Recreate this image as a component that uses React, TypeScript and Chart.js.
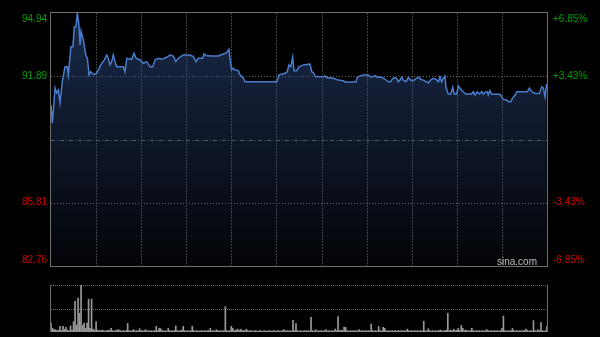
import React, { useEffect, useRef } from "react";
import { Chart, registerables } from "chart.js";

Chart.register(...registerables);

// Minutes since the 09:30 open (HK session: 330 trading minutes)
const minutes = [
  0, 0.9, 2.7, 3.8, 4.9, 6.0, 7.5, 9.3, 10.8, 11.5, 13.3, 14.6, 15.5, 16.6, 17.5, 18.6, 19.3, 20.0, 21.5, 23.1,
  24.2, 25.3, 26.4, 28.1, 29.7, 31.5, 33.3, 35.5, 37.1, 38.1, 39.3, 40.4, 41.4, 42.6, 43.7, 45.9, 48.1, 49.2, 50.4, 53.7,
  55.2, 56.6, 59.2, 61.4, 63.7, 65.9, 67.7, 69.2, 71.4, 73.7, 77.0, 79.2, 81.4, 83.0, 84.7, 88.0, 92.5, 94.7, 96.5, 98.0,
  100.9, 101.8, 103.1, 105.8, 111.3, 112.9, 114.6, 116.9, 118.4, 119.1, 120.2, 121.3, 122.4, 124.6, 125.7, 127.5, 129.1, 150.2, 151.7, 155.7,
  157.2, 158.3, 159.5, 160.8, 161.7, 163.5, 165.0, 167.9, 172.3, 173.5, 174.5, 176.1, 181.2, 182.3, 183.4, 187.8, 191.1, 194.5, 195.6, 202.9,
  203.8, 205.6, 207.8, 211.1, 212.2, 214.4, 215.6, 217.1, 220.0, 222.2, 224.4, 226.0, 227.3, 228.9, 230.0, 231.1, 232.2, 233.3, 234.4, 236.2,
  237.7, 239.3, 241.0, 243.3, 244.8, 246.0, 247.7, 249.5, 251.0, 252.6, 254.3, 256.1, 257.7, 258.8, 259.9, 261.0, 262.1, 262.8, 264.3, 265.9,
  267.3, 268.3, 269.9, 271.0, 272.1, 274.3, 275.9, 279.9, 281.0, 282.1, 283.6, 285.0, 286.5, 287.6, 288.7, 290.3, 290.9, 292.0, 293.2, 296.5,
  298.7, 299.8, 300.9, 303.2, 304.3, 305.9, 307.0, 308.8, 309.9, 315.4, 317.0, 318.3, 319.9, 322.1, 324.9, 326.5, 327.6, 328.7, 329.8,
];

const prices = [
  90.51, 89.63, 91.33, 91.09, 91.23, 90.61, 91.63, 92.35, 92.35, 91.96, 93.32, 93.32, 94.28, 94.28, 94.93, 94.36, 93.40, 94.07, 93.64, 92.92,
  92.76, 91.96, 92.11, 91.99, 91.99, 92.20, 92.47, 92.68, 92.92, 92.76, 92.44, 92.60, 92.92, 92.60, 92.35, 92.35, 92.35, 92.11, 92.76, 92.71,
  93.00, 92.76, 92.68, 92.52, 92.60, 92.35, 92.35, 92.68, 92.76, 92.71, 92.81, 92.92, 92.87, 92.60, 92.76, 92.92, 92.92, 92.84, 92.60, 92.76,
  92.76, 92.97, 92.89, 92.87, 92.87, 92.92, 92.97, 93.03, 93.19, 92.76, 92.20, 92.28, 92.20, 92.16, 91.96, 91.85, 91.63, 91.63, 91.96, 92.04,
  92.11, 92.44, 92.35, 92.81, 92.16, 92.16, 92.35, 92.44, 92.48, 92.11, 92.07, 91.87, 91.87, 91.91, 91.83, 91.80, 91.71, 91.68, 91.62, 91.62,
  91.85, 91.91, 91.96, 91.96, 91.87, 91.87, 91.92, 91.85, 91.85, 91.75, 91.63, 91.63, 91.78, 91.83, 91.78, 91.63, 91.71, 91.85, 91.71, 91.63,
  91.83, 91.71, 91.68, 91.80, 91.85, 91.75, 91.71, 91.63, 91.58, 91.71, 91.80, 91.75, 91.63, 91.87, 91.63, 91.80, 91.91, 91.36, 91.04, 91.03,
  91.36, 91.04, 91.04, 91.43, 91.32, 91.15, 91.04, 91.04, 91.15, 90.99, 91.15, 91.04, 91.15, 91.03, 91.12, 91.15, 90.99, 91.20, 91.03, 91.03,
  91.03, 90.91, 90.78, 90.75, 90.67, 90.67, 90.83, 90.99, 91.15, 91.15, 91.15, 91.32, 91.15, 91.07, 91.07, 91.39, 91.32, 90.91, 91.52,
];

// Per-minute volume (relative, 100 = largest bar)
const volumes = [
  19, 8, 5, 5, 3, 4, 12, 3, 12, 6, 10, 4, 3, 13, 4, 22, 65, 15, 72, 40, 100, 14, 19, 8, 19, 70, 8, 70, 6, 4,
  22, 4, 3, 3, 4, 3, 2, 3, 4, 3, 8, 3, 2, 3, 4, 5, 3, 2, 3, 2, 3, 18, 3, 2, 3, 5, 2, 3, 2, 7,
  3, 2, 3, 5, 2, 3, 2, 3, 2, 3, 12, 3, 8, 7, 3, 2, 3, 2, 8, 3, 2, 3, 3, 13, 3, 2, 3, 4, 12, 3,
  2, 3, 2, 3, 12, 3, 2, 3, 2, 2, 3, 2, 3, 2, 3, 3, 8, 2, 3, 2, 5, 3, 2, 3, 2, 3, 54, 3, 2, 3,
  12, 8, 3, 4, 6, 3, 6, 4, 3, 3, 6, 3, 2, 3, 2, 2, 3, 2, 2, 3, 2, 2, 3, 2, 2, 3, 2, 2, 3, 2,
  2, 3, 2, 2, 3, 5, 2, 3, 2, 3, 2, 25, 3, 18, 3, 2, 3, 2, 2, 3, 2, 3, 2, 31, 3, 2, 5, 2, 3, 2,
  3, 2, 3, 5, 2, 3, 2, 3, 2, 6, 3, 33, 3, 4, 3, 10, 10, 3, 2, 3, 2, 3, 2, 3, 2, 5, 2, 3, 2, 3,
  2, 3, 2, 17, 3, 2, 3, 2, 12, 3, 2, 10, 8, 3, 2, 3, 2, 3, 2, 3, 2, 3, 2, 3, 2, 3, 2, 6, 3, 2,
  3, 2, 3, 2, 3, 2, 3, 2, 23, 3, 2, 7, 3, 2, 3, 2, 3, 2, 3, 4, 3, 2, 3, 4, 40, 3, 4, 3, 6, 3,
  4, 8, 3, 14, 8, 3, 4, 3, 2, 3, 8, 3, 2, 3, 2, 3, 2, 3, 2, 3, 5, 3, 2, 3, 2, 3, 2, 3, 2, 3,
  8, 34, 3, 2, 3, 2, 3, 8, 3, 2, 3, 2, 3, 2, 3, 3, 6, 3, 2, 3, 2, 24, 3, 2, 5, 3, 20, 3, 2, 3,
  12,
];

const PREV_CLOSE = 88.85;
const PRICE_MIN = 82.76;
const PRICE_MAX = 94.94;
const priceTicks = [94.94, 91.89, 85.81, 82.76];
const priceLabels = ["94.94", "91.89", "85.81", "82.76"];
const pctLabels = ["+6.85%", "+3.43%", "-3.43%", "-6.85%"];
const timeGrid = [30, 60, 90, 120, 150, 180, 210, 240, 270, 300];
const SESSION_MINUTES = 330;

const FONT = "10px 'Liberation Sans', Arial, sans-serif";

const mainDecor = {
  id: "mainDecor",
  beforeDatasetsDraw(chart: any) {
    const { ctx, chartArea: a, scales } = chart;
    const x = scales.x;
    const y = scales.y;
    ctx.save();
    ctx.lineWidth = 1;
    // vertical time grid
    ctx.strokeStyle = "#3e3e3e";
    ctx.setLineDash([2, 1]);
    for (const m of timeGrid) {
      const px = Math.round(x.getPixelForValue(m)) + 0.5;
      ctx.beginPath();
      ctx.moveTo(px, a.top);
      ctx.lineTo(px, a.bottom);
      ctx.stroke();
    }
    // horizontal price grid
    ctx.strokeStyle = "#666666";
    ctx.setLineDash([1, 2]);
    for (const v of [priceTicks[1], priceTicks[2]]) {
      const py = Math.round(y.getPixelForValue(v)) + 0.5;
      ctx.beginPath();
      ctx.moveTo(a.left, py);
      ctx.lineTo(a.right, py);
      ctx.stroke();
    }
    // previous close line
    ctx.strokeStyle = "#5a6170";
    ctx.setLineDash([4, 2, 1, 2]);
    const pc = Math.round(y.getPixelForValue(PREV_CLOSE)) + 0.5;
    ctx.beginPath();
    ctx.moveTo(a.left, pc);
    ctx.lineTo(a.right, pc);
    ctx.stroke();
    ctx.restore();
  },
  afterDraw(chart: any) {
    const { ctx, chartArea: a, scales } = chart;
    const y = scales.y;
    ctx.save();
    ctx.strokeStyle = "#6e6e6e";
    ctx.lineWidth = 1;
    ctx.setLineDash([]);
    ctx.strokeRect(a.left - 0.5, a.top - 0.5, a.right - a.left + 1, a.bottom - a.top + 1);
    ctx.font = FONT;
    ctx.textBaseline = "middle";
    priceTicks.forEach((v, i) => {
      let py = y.getPixelForValue(v);
      if (py - 6 < a.top) py = a.top + 6;
      if (py + 6 > a.bottom) py = a.bottom - 6;
      const color = v > PREV_CLOSE ? "#00a000" : "#cc0000";
      ctx.fillStyle = color;
      ctx.textAlign = "right";
      ctx.fillText(priceLabels[i], a.left - 4, py);
      ctx.textAlign = "left";
      ctx.fillText(pctLabels[i], a.right + 6, py);
    });
    ctx.fillStyle = "#bdbdbd";
    ctx.textAlign = "right";
    ctx.textBaseline = "alphabetic";
    ctx.fillText("sina.com", a.right - 10, a.bottom - 1.5);
    ctx.restore();
  },
};

const volDecor = {
  id: "volDecor",
  beforeDatasetsDraw(chart: any) {
    const { ctx, chartArea: a, scales } = chart;
    const y = scales.y;
    ctx.save();
    ctx.lineWidth = 1;
    ctx.strokeStyle = "#6a6a6a";
    ctx.setLineDash([1, 1]);
    for (const v of [100, 50]) {
      const py = Math.round(y.getPixelForValue(v)) + 0.5;
      ctx.beginPath();
      ctx.moveTo(a.left, py);
      ctx.lineTo(a.right, py);
      ctx.stroke();
    }
    ctx.setLineDash([]);
    ctx.strokeStyle = "#6e6e6e";
    ctx.beginPath();
    ctx.moveTo(a.left - 0.5, a.top);
    ctx.lineTo(a.left - 0.5, a.bottom);
    ctx.moveTo(a.right + 0.5, a.top);
    ctx.lineTo(a.right + 0.5, a.bottom);
    ctx.stroke();
    ctx.restore();
  },
};

export default function App() {
  const mainRef = useRef<HTMLCanvasElement | null>(null);
  const volRef = useRef<HTMLCanvasElement | null>(null);

  useEffect(() => {
    const main = new Chart(mainRef.current as HTMLCanvasElement, {
      type: "line",
      data: {
        datasets: [
          {
            data: minutes.map((m, i) => ({ x: m, y: prices[i] })),
            borderColor: "#4a7ccc",
            borderWidth: 1.5,
            pointRadius: 0,
            tension: 0,
            fill: "start",
            backgroundColor: (c: any) => {
              const a = c.chart.chartArea;
              if (!a) return "rgba(0,0,0,0)";
              const g = c.chart.ctx.createLinearGradient(0, a.top, 0, a.bottom);
              g.addColorStop(0, "rgba(50,80,140,0.52)");
              g.addColorStop(1, "rgba(50,80,140,0.05)");
              return g;
            },
          },
        ],
      },
      options: {
        responsive: false,
        animation: false,
        layout: { padding: { left: 51, right: 53, top: 13, bottom: 71 } },
        plugins: { legend: { display: false }, tooltip: { enabled: false } },
        scales: {
          x: { type: "linear", min: 0, max: SESSION_MINUTES, display: false },
          y: { type: "linear", min: PRICE_MIN, max: PRICE_MAX, display: false },
        },
      },
      plugins: [mainDecor],
    });

    const vol = new Chart(volRef.current as HTMLCanvasElement, {
      type: "bar",
      data: {
        datasets: [
          {
            data: volumes.map((v, i) => ({ x: i, y: v })),
            backgroundColor: "#9a9a9a",
            borderWidth: 0,
            barThickness: 1,
          },
        ],
      },
      options: {
        responsive: false,
        animation: false,
        layout: { padding: { left: 51, right: 53, top: 285, bottom: 5 } },
        plugins: { legend: { display: false }, tooltip: { enabled: false } },
        scales: {
          x: { type: "linear", min: 0, max: SESSION_MINUTES, display: false, offset: false },
          y: { type: "linear", min: 0, max: 100, display: false },
        },
      },
      plugins: [volDecor],
    });

    return () => {
      main.destroy();
      vol.destroy();
    };
  }, []);

  const canvasStyle: React.CSSProperties = { position: "absolute", left: 0, top: 0, display: "block" };
  return (
    <div style={{ position: "fixed", left: 0, top: 0, width: 600, height: 337, background: "#000", overflow: "hidden" }}>
      <canvas ref={volRef} width={600} height={337} style={canvasStyle} />
      <canvas ref={mainRef} width={600} height={337} style={canvasStyle} />
    </div>
  );
}
